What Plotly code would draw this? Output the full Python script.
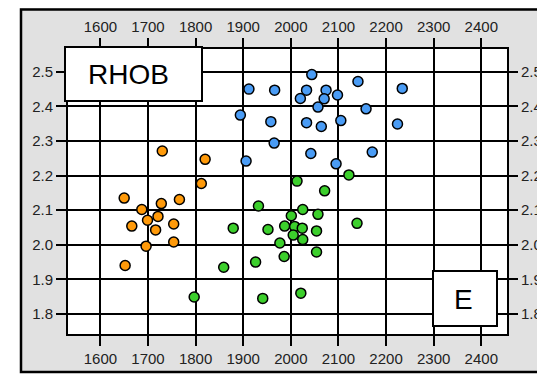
import plotly.graph_objects as go

# ---- data ----
blue_x = [1912, 1966, 1894, 1958, 1965, 1906, 2044, 2141, 2234, 2033, 2074, 2098, 2020,
          2070, 2057, 2158, 2033, 2105, 2064, 2224, 2042, 2171, 2095]
blue_y = [2.450, 2.447, 2.375, 2.356, 2.294, 2.242, 2.492, 2.472, 2.452, 2.447, 2.447, 2.433, 2.423,
          2.422, 2.398, 2.393, 2.353, 2.359, 2.342, 2.349, 2.264, 2.268, 2.234]

orange_x = [1730, 1820, 1812, 1650, 1766, 1728, 1687, 1721, 1699, 1666, 1754, 1716, 1754, 1696, 1652]
orange_y = [2.271, 2.247, 2.177, 2.135, 2.131, 2.119, 2.102, 2.082, 2.071, 2.054, 2.060, 2.043, 2.008,
            1.996, 1.940]

green_x = [2122, 2013, 2071, 1932, 2025, 2057, 2001, 1879, 1952, 1987, 2008, 2024, 2054, 2139,
           2005, 2025, 1977, 2054, 1986, 1926, 1859, 1797, 1941, 2021]
green_y = [2.202, 2.184, 2.156, 2.112, 2.102, 2.088, 2.084, 2.048, 2.044, 2.054, 2.053, 2.048, 2.040,
           2.062, 2.028, 2.015, 2.005, 1.979, 1.966, 1.950, 1.935, 1.849, 1.845, 1.860]

x_ticks = [1600, 1700, 1800, 1900, 2000, 2100, 2200, 2300, 2400]
y_ticks = [1.8, 1.9, 2.0, 2.1, 2.2, 2.3, 2.4, 2.5]
x_range = [1532, 2454]
y_range = [1.742, 2.566]

title_left = "RHOB"
title_right = "E"

colors = {"blue": "#4a9cf5", "orange": "#ff9a0a", "green": "#3ccf2c"}

fig = go.Figure()
for xs, ys, c in [(blue_x, blue_y, colors["blue"]),
                  (orange_x, orange_y, colors["orange"]),
                  (green_x, green_y, colors["green"])]:
    fig.add_trace(go.Scatter(x=xs, y=ys, mode="markers",
                             marker=dict(size=10, color=c, line=dict(color="black", width=1.5)),
                             showlegend=False, hoverinfo="skip"))

# invisible trace for the mirrored axes with labels
fig.add_trace(go.Scatter(x=[x_range[0]], y=[y_range[0]], xaxis="x2", yaxis="y2",
                         mode="markers", marker=dict(opacity=0), showlegend=False, hoverinfo="skip"))

tickfont = dict(family="Liberation Sans, Arial, sans-serif", size=15, color="#222")
common = dict(showgrid=True, gridcolor="black", gridwidth=2, ticks="outside", ticklen=10,
              tickwidth=2, tickcolor="black", tickfont=tickfont, zeroline=False,
              showline=True, linecolor="black", linewidth=2, automargin=False)
common2 = dict(showgrid=False, ticks="outside", ticklen=10, tickwidth=2, tickcolor="black",
               tickfont=tickfont, zeroline=False, showline=False, automargin=False)

# the page body adds an 8px offset, so the plot area (screen x 68..507, y 49..334)
# is placed 8px up/left in figure coordinates
fig.update_layout(
    width=545, height=375,
    margin=dict(l=60, r=46, t=41, b=49),
    paper_bgcolor="#e1e1e1", plot_bgcolor="white",
    xaxis=dict(range=x_range, tickvals=x_ticks, mirror=True, **common),
    yaxis=dict(range=y_range, tickvals=y_ticks, tickformat=".1f", mirror=True, **common),
    xaxis2=dict(range=x_range, tickvals=x_ticks, overlaying="x", side="top", **common2),
    yaxis2=dict(range=y_range, tickvals=y_ticks, tickformat=".1f", overlaying="y", side="right",
                **common2),
)

# screen pixel -> paper helpers (plot area on screen: x 68..507, y 49..334)
def px(p):
    return (p - 68) / 439.0

def py(p):
    return (334 - p) / 285.0

shapes = []
# white outside strips and outer frame
shapes.append(dict(type="rect", xref="paper", yref="paper", x0=px(-20), x1=px(20), y0=py(400), y1=py(-20),
                   fillcolor="white", line=dict(width=0), layer="above"))
shapes.append(dict(type="rect", xref="paper", yref="paper", x0=px(-20), x1=px(570), y0=py(400), y1=py(373),
                   fillcolor="white", line=dict(width=0), layer="above"))
shapes.append(dict(type="rect", xref="paper", yref="paper", x0=px(21), x1=px(580), y0=py(372), y1=py(9.5),
                   fillcolor="rgba(0,0,0,0)", line=dict(color="black", width=2.5), layer="above"))
# label boxes
shapes.append(dict(type="rect", xref="paper", yref="paper", x0=px(65), x1=px(202), y0=py(101), y1=py(47),
                   fillcolor="white", line=dict(color="black", width=2), layer="above"))
shapes.append(dict(type="rect", xref="paper", yref="paper", x0=px(433), x1=px(497), y0=py(326), y1=py(271),
                   fillcolor="white", line=dict(color="black", width=2), layer="above"))
fig.update_layout(shapes=shapes)

fig.add_annotation(text=title_left, xref="paper", yref="paper", x=px(128), y=py(75),
                   xanchor="center", yanchor="middle", showarrow=False,
                   font=dict(family="Liberation Sans, Arial, sans-serif", size=28, color="black"))
fig.add_annotation(text=title_right, xref="paper", yref="paper", x=px(463), y=py(299),
                   xanchor="center", yanchor="middle", showarrow=False,
                   font=dict(family="Liberation Sans, Arial, sans-serif", size=28, color="black"))

fig.write_html("out.html")
